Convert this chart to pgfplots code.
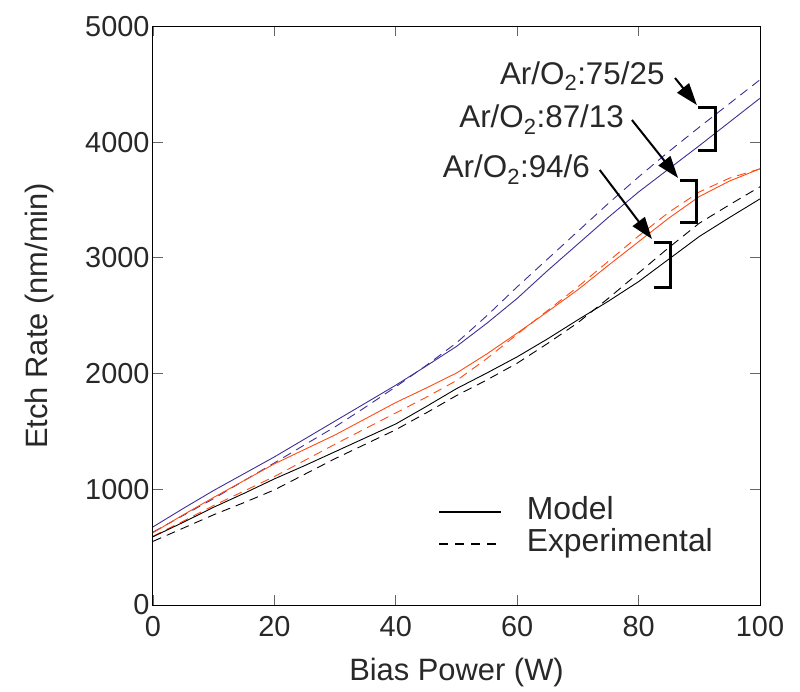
\documentclass[border=0pt]{standalone}
\usepackage{fontspec}
\setmainfont{Liberation Sans}
\usepackage{pgfplots}
\pgfplotsset{compat=1.18}
\usetikzlibrary{arrows.meta}
\definecolor{bl}{RGB}{62,46,150}
\definecolor{orr}{RGB}{255,75,20}
\definecolor{tk}{RGB}{40,40,40}
\begin{document}
\begin{tikzpicture}
\begin{axis}[name=ax, scale only axis, width=607bp, height=578.5bp,
  xmin=0, xmax=100, ymin=0, ymax=5000,
  xtick={0,20,...,100}, ytick={0,1000,...,5000},
  tick align=inside, major tick length=10bp,
  scaled y ticks=false,
  /pgf/number format/assume math mode=true,
  /pgf/number format/set thousands separator={},
  tick label style={font=\fontsize{29}{34}\selectfont, text=tk},
  xticklabel style={yshift=-8bp},
  tick style={line width=0.8bp, black!60},
  axis line style={line width=1bp, black},
  xlabel={Bias Power (W)}, ylabel={Etch Rate (nm/min)},
  label style={font=\fontsize{31}{37}\selectfont, text=tk},
  xlabel style={at={(axis description cs:0.5,-0.1310)}, anchor=base},
  ylabel style={at={(axis description cs:-0.1746,0.5)}, anchor=base},
  legend cell align=left,
  legend style={at={(axis cs:47,945)}, anchor=north west, draw=none, fill=none,
    font=\fontsize{32}{38}\selectfont, text=tk, row sep=0bp, inner sep=0bp,
    nodes={inner sep=1bp, text height=23bp, text depth=7bp},
    /tikz/every odd column/.append style={column sep=24bp}},
  legend image code/.code={\draw[#1, line width=1.3bp] (0bp,0bp) -- (62bp,0bp);},
]
\addlegendimage{black, solid}
\addlegendentry{Model}
\addlegendimage{black, dash pattern=on 9bp off 7bp}
\addlegendentry{Experimental}

% Ar/O2 75/25
\addplot[bl, line width=0.9bp, forget plot] coordinates {(0,675) (5,835) (10,990) (15,1135) (20,1280) (25,1435) (30,1590) (35,1745) (40,1900) (45,2065) (50,2235) (55,2435) (60,2650) (65,2890) (70,3120) (75,3350) (80,3570) (85,3770) (90,3970) (95,4175) (100,4380)};
\addplot[bl, line width=0.9bp, dash pattern=on 9bp off 6bp, forget plot] coordinates {(0,630) (5,775) (10,920) (15,1075) (20,1228) (25,1385) (30,1540) (35,1710) (40,1886) (45,2070) (50,2266) (55,2500) (60,2750) (65,2990) (70,3230) (75,3470) (80,3700) (85,3920) (90,4130) (95,4335) (100,4540)};
% Ar/O2 87/13
\addplot[orr, line width=0.9bp, forget plot] coordinates {(0,625) (5,780) (10,930) (15,1075) (20,1220) (25,1345) (30,1470) (35,1610) (40,1750) (45,1875) (50,2005) (55,2170) (60,2350) (65,2535) (70,2725) (75,2935) (80,3140) (85,3345) (90,3530) (95,3665) (100,3770)};
\addplot[orr, line width=0.9bp, dash pattern=on 9bp off 6bp, forget plot] coordinates {(0,595) (5,725) (10,860) (15,985) (20,1110) (25,1250) (30,1390) (35,1525) (40,1660) (45,1795) (50,1940) (55,2130) (60,2340) (65,2545) (70,2750) (75,2970) (80,3190) (85,3395) (90,3570) (95,3690) (100,3770)};
% Ar/O2 94/6
\addplot[black, line width=0.9bp, forget plot] coordinates {(0,590) (5,715) (10,845) (15,965) (20,1090) (25,1205) (30,1325) (35,1445) (40,1565) (45,1715) (50,1870) (55,2005) (60,2145) (65,2300) (70,2465) (75,2625) (80,2795) (85,2990) (90,3185) (95,3350) (100,3510)};
\addplot[black, line width=0.9bp, dash pattern=on 9bp off 6bp, forget plot] coordinates {(0,550) (5,665) (10,780) (15,885) (20,995) (25,1130) (30,1265) (35,1390) (40,1515) (45,1660) (50,1810) (55,1945) (60,2090) (65,2260) (70,2440) (75,2650) (80,2870) (85,3090) (90,3300) (95,3460) (100,3615)};

% annotations
\node[anchor=base east, font=\fontsize{31.5}{37}\selectfont, text=tk, inner sep=0pt] at (axis cs:84.3,4503) {Ar/O\textsubscript{2}:75/25};
\node[anchor=base east, font=\fontsize{31.5}{37}\selectfont, text=tk, inner sep=0pt] at (axis cs:77.6,4123) {Ar/O\textsubscript{2}:87/13};
\node[anchor=base east, font=\fontsize{31.5}{37}\selectfont, text=tk, inner sep=0pt] at (axis cs:72.0,3691) {Ar/O\textsubscript{2}:94/6};
\draw[line width=2bp, -{Triangle[length=22bp,width=15bp]}] (axis cs:86.0,4555) -- (axis cs:89.6,4321);
\draw[line width=2bp, -{Triangle[length=22bp,width=15bp]}] (axis cs:78.9,4192) -- (axis cs:86.5,3691);
\draw[line width=2bp, -{Triangle[length=22bp,width=15bp]}] (axis cs:73.6,3760) -- (axis cs:82.2,3163);
\draw[line width=3bp] (axis cs:89.8,4304) -- (axis cs:92.6,4304) -- (axis cs:92.6,3932) -- (axis cs:89.8,3932);
\draw[line width=3bp] (axis cs:86.8,3673) -- (axis cs:89.6,3673) -- (axis cs:89.6,3302) -- (axis cs:86.8,3302);
\draw[line width=3bp] (axis cs:82.5,3137) -- (axis cs:85.2,3137) -- (axis cs:85.2,2748) -- (axis cs:82.5,2748);
\end{axis}
\pgfresetboundingbox
\path ([shift={(-153bp,-87bp)}]ax.south west) rectangle ([shift={(647bp,605bp)}]ax.south west);
\end{tikzpicture}
\end{document}
